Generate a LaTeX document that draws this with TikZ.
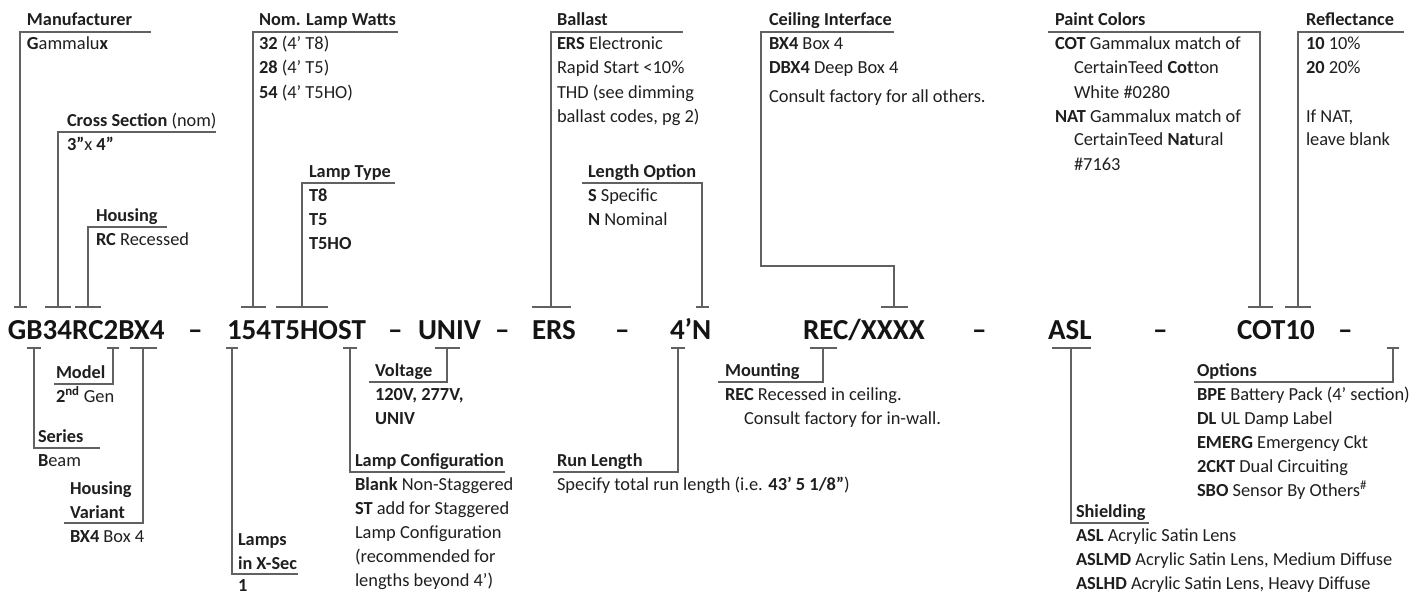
\documentclass[tikz,border=0pt]{standalone}
\usepackage{fontspec}
\setmainfont{Carlito}
\newcommand\blk[1]{\begin{tabular}[t]{@{}l@{}}#1\end{tabular}}
\newcommand\ind{\hspace*{19pt}}
\tikzset{
  conn/.style={draw=black!62, line width=1.1pt},
  lbl/.style={anchor=base west, inner sep=0pt, outer sep=0pt, text=black!88, font=\fontsize{18.4}{24}\selectfont},
  head/.style={lbl, font=\fontsize{18.3}{24}\selectfont\bfseries},
  code/.style={anchor=base west, inner sep=0pt, outer sep=0pt, text=black!92, font=\fontsize{29}{34}\selectfont\bfseries},
}
% top connector: name, x of vertical, tick half width, underline y, underline far end
\newcommand\topconn[5]{%
  \coordinate (#1t) at (#2,307);
  \coordinate (#1c) at (#2,#4);
  \coordinate (#1e) at (#5,#4);
  \draw[conn] ([xshift=-#3pt]#1t) -- ([xshift=#3pt]#1t);
  \draw[conn] (#1t) -- (#1c) -- (#1e);}
% bottom connector
\newcommand\botconn[5]{%
  \coordinate (#1t) at (#2,348);
  \coordinate (#1c) at (#2,#4);
  \coordinate (#1e) at (#5,#4);
  \draw[conn] ([xshift=-#3pt]#1t) -- ([xshift=#3pt]#1t);
  \draw[conn] (#1t) -- (#1c) -- (#1e);}
\begin{document}
\begin{tikzpicture}[x=1pt,y=-1pt]
\useasboundingbox (0,0) rectangle (1426,594);
\fill[white] (0,0) rectangle (1426,594);

% ---------- code line ----------
\node[code] (c1) at (8,339) {GB34RC2BX4};
\node[code] (d1) at (188,339) {–};
\node[code] (c2) at (227,339) {154T5HOST};
\node[code] (d2) at (388,339) {–};
\node[code] (c3) at (418,339) {UNIV};
\node[code] (d3) at (495,339) {–};
\node[code] (c4) at (532,339) {ERS};
\node[code] (d4) at (615,339) {–};
\node[code] (c5) at (670,339) {4’N};
\node[code] (c6) at (803,339) {REC/XXXX};
\node[code] (d6) at (972,339) {–};
\node[code] (c7) at (1048,339) {ASL};
\node[code] (d7) at (1153,339) {–};
\node[code] (c8) at (1237,339) {COT10};
\node[code] (d8) at (1338,339) {–};

% ---------- top labels ----------
\topconn{mf}{20}{6.5}{32}{151}
\node[head] (mfH) at (27,26) {Manufacturer};
\node[lbl] (mfB) at (27,50) {\blk{\textbf{G}ammalu\textbf{x}}};

\topconn{cs}{58}{13}{132}{216}
\node[head] (csH) at (67,126) {Cross Section \mdseries(nom)};
\node[lbl] (csB) at (67,150) {\blk{\textbf{3”}x \textbf{4”}}};

\topconn{ho}{88}{13}{227}{167}
\node[head] (hoH) at (96,221) {Housing};
\node[lbl] (hoB) at (96,245) {\blk{\textbf{RC} Recessed}};

\topconn{nw}{253}{12.5}{32}{398}
\node[head] (nwH) at (259,26) {Nom. Lamp Watts};
\node[lbl] (nwB) at (259,50) {\blk{\textbf{32} (4’ T8)\\ \textbf{28} (4’ T5)\\ \textbf{54} (4’ T5HO)}};

\topconn{lt}{302}{26}{183}{395}
\node[head] (ltH) at (309,177) {Lamp Type};
\node[lbl] (ltB) at (309,201) {\blk{\textbf{T8}\\ \textbf{T5}\\ \textbf{T5HO}}};

\topconn{ba}{551}{19.5}{32}{683}
\node[head] (baH) at (557,26) {Ballast};
\node[lbl] (baB) at (557,50) {\blk{\textbf{ERS} Electronic\\ Rapid Start <10\%\\ THD (see dimming\\ ballast codes, pg 2)}};

\topconn{lo}{702}{6.5}{183}{582}
\node[head] (loH) at (588,177) {Length Option};
\node[lbl] (loB) at (588,201) {\blk{\textbf{S} Specific\\ \textbf{N} Nominal}};

\coordinate (ciT) at (894,307);
\coordinate (ciA) at (761,32);
\coordinate (ciE) at (894,32);
\coordinate (ciL) at (761,266);
\coordinate (ciR) at (894,266);
\draw[conn] ([xshift=-13.5pt]ciT) -- ([xshift=13.5pt]ciT);
\draw[conn] (ciT) -- (ciR) -- (ciL) -- (ciA) -- (ciE);
\node[head] (ciH) at (769,26) {Ceiling Interface};
\node[lbl] (ciB) at (769,50) {\blk{\textbf{BX4} Box 4\\ \textbf{DBX4} Deep Box 4\\[5pt] Consult factory for all others.}};

\topconn{pc}{1260}{12.5}{32}{1048}
\node[head] (pcH) at (1055,26) {Paint Colors};
\node[lbl] (pcB) at (1055,50) {\blk{\textbf{COT} Gammalux match of\\ \ind CertainTeed \textbf{Cot}ton\\ \ind White \#0280\\ \textbf{NAT} Gammalux match of\\ \ind CertainTeed \textbf{Nat}ural\\ \ind \#7163}};

\topconn{re}{1298}{13}{32}{1404}
\node[head] (reH) at (1306,26) {Reflectance};
\node[lbl] (reB) at (1306,50) {\blk{\textbf{10} 10\%\\ \textbf{20} 20\%\\ \\ If NAT,\\ leave blank}};

% ---------- bottom labels ----------
\botconn{mo}{113}{6}{384}{54}
\node[head] (moH) at (56,378) {Model};
\node[lbl] (moB) at (56,402) {\blk{\textbf{2\textsuperscript{nd}} Gen}};

\botconn{se}{34}{7}{448}{100}
\node[head] (seH) at (38,442) {Series};
\node[lbl] (seB) at (38,466) {\blk{\textbf{B}eam}};

\botconn{hv}{143}{13.5}{523}{64}
\node[head] (hvH) at (70,494) {\blk{Housing\\ Variant}};
\node[lbl] (hvB) at (70,542) {\blk{\textbf{BX4} Box 4}};

\botconn{lx}{232}{6}{574}{298}
\node[head] (lxH) at (238,545) {\blk{Lamps\\ in X-Sec}};
\node[lbl] (lxB) at (238,591) {\blk{\textbf{1}}};

\botconn{lc}{350}{7}{472}{505}
\node[head] (lcH) at (355,466) {Lamp Configuration};
\node[lbl] (lcB) at (355,490) {\blk{\textbf{Blank} Non-Staggered\\ \textbf{ST} add for Staggered\\ Lamp Configuration\\ (recommended for\\ lengths beyond 4’)}};

\botconn{vo}{447}{12.5}{382}{369}
\node[head] (voH) at (375,376) {Voltage};
\node[lbl] (voB) at (375,400) {\blk{\textbf{120V, 277V,}\\ \textbf{UNIV}}};

\botconn{rl}{678}{7}{472}{553}
\node[head] (rlH) at (557,466) {Run Length};
\node[lbl] (rlB) at (557,490) {\blk{Specify total run length (i.e. \textbf{43’ 5 1/8”})}};

\botconn{mt}{823}{13.5}{382}{718}
\node[head] (mtH) at (725,376) {Mounting};
\node[lbl] (mtB) at (725,400) {\blk{\textbf{REC} Recessed in ceiling.\\ \ind Consult factory for in-wall.}};

\botconn{sh}{1071}{19.5}{523}{1149}
\node[head] (shH) at (1076,517) {Shielding};
\node[lbl] (shB) at (1076,541) {\blk{\textbf{ASL} Acrylic Satin Lens\\ \textbf{ASLMD} Acrylic Satin Lens, Medium Diffuse\\ \textbf{ASLHD} Acrylic Satin Lens, Heavy Diffuse}};

\botconn{op}{1393}{6}{382}{1194}
\node[head] (opH) at (1197,376) {Options};
\node[lbl] (opB) at (1197,400) {\blk{\textbf{BPE} Battery Pack (4’ section)\\ \textbf{DL} UL Damp Label\\ \textbf{EMERG} Emergency Ckt\\ \textbf{2CKT} Dual Circuiting\\ \textbf{SBO} Sensor By Others\textsuperscript{\#}}};
\end{tikzpicture}
\end{document}
